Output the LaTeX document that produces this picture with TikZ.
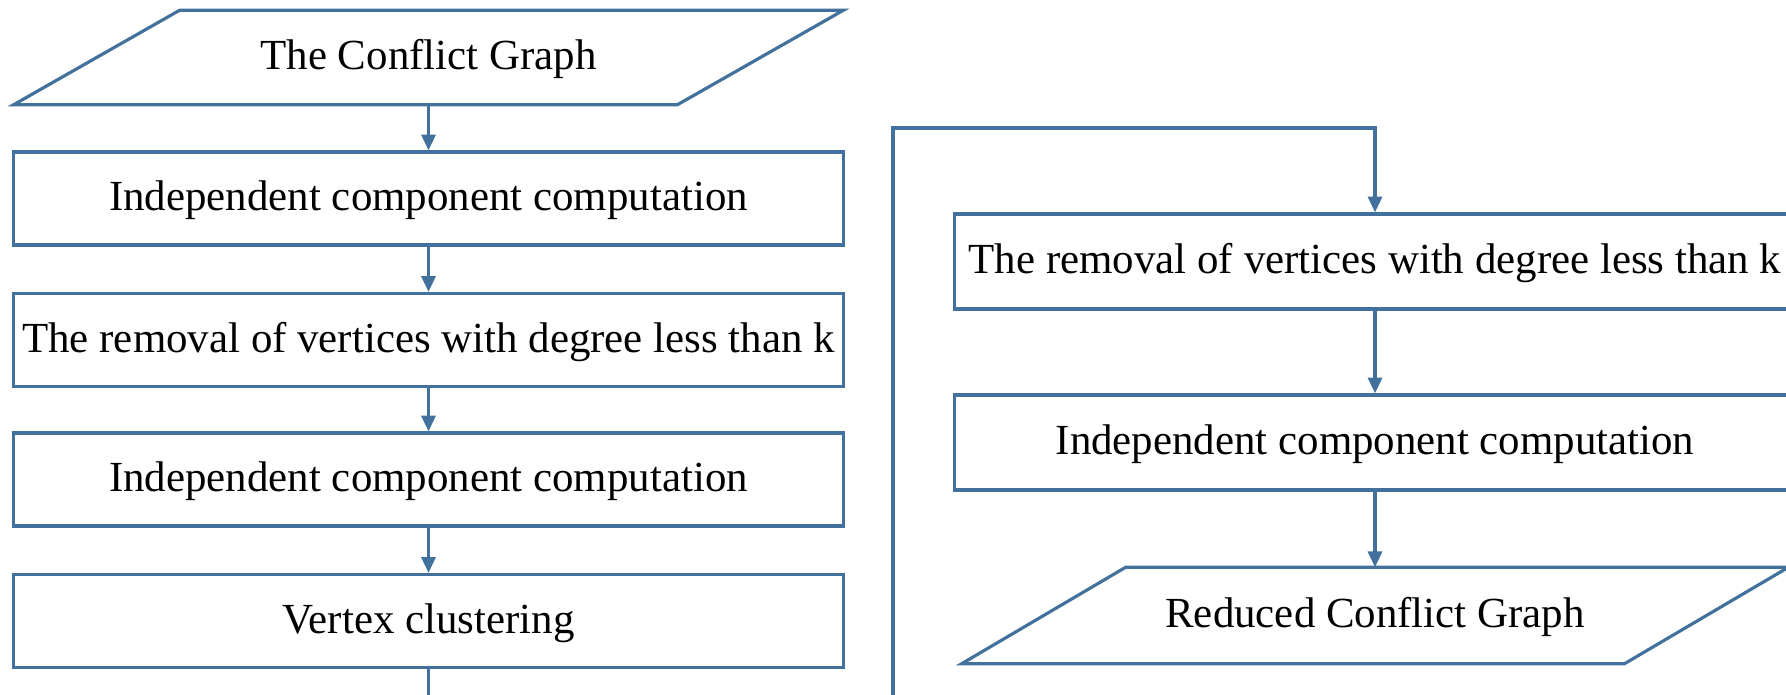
\documentclass[tikz,border=0pt]{standalone}
\usepackage{fontspec}
\setmainfont{Liberation Serif}
\usetikzlibrary{arrows.meta,calc}
\definecolor{flowblue}{RGB}{65,113,156}
\tikzset{
  boxnode/.style={draw=flowblue, line width=0.9pt, minimum width=8.29cm, minimum height=0.93cm, inner sep=0pt, text height=0.9em, text depth=0.2em, font=\fontsize{12.2}{14}\selectfont},
  ionode/.style={minimum width=6.62cm, minimum height=0.93cm, inner sep=0pt, text height=0.9em, text depth=0.2em, font=\fontsize{12.2}{14}\selectfont},
  conn/.style={draw=flowblue, line width=0.9pt, -{Triangle[length=4.5pt,width=4pt]}},
  flowline/.style={draw=flowblue, line width=0.9pt}
}
\begin{document}
\begin{tikzpicture}[x=0.01cm, y=-0.01cm]
\useasboundingbox (0,0) rectangle (1786,694);
\clip (0,0) rectangle (1786,694);
% left column
\node[ionode] (g1) at (428.5,57.5) {The Conflict Graph};
\draw[flowline] ($(g1.south west)+(-83,0)$) -- ($(g1.north west)+(83,0)$) -- ($(g1.north east)+(83,0)$) -- ($(g1.south east)+(-83,0)$) -- cycle;
\node[boxnode] (b1) at (428.5,198.5) {Independent component computation};
\node[boxnode] (b2) at (428.5,340) {The removal of vertices with degree less than k};
\node[boxnode] (b3) at (428.5,479.5) {Independent component computation};
\node[boxnode] (b4) at (428.5,621) {Vertex clustering};
% right column
\node[boxnode, minimum width=8.4cm, minimum height=0.95cm] (r1) at (1375,261.5) {The removal of vertices with degree less than k};
\node[boxnode, minimum width=8.4cm, minimum height=0.95cm] (r2) at (1375,442.5) {Independent component computation};
\node[ionode, minimum width=6.61cm, minimum height=0.95cm] (g2) at (1375,615.5) {Reduced Conflict Graph};
\draw[flowline] ($(g2.south west)+(-82,0)$) -- ($(g2.north west)+(82,0)$) -- ($(g2.north east)+(82,0)$) -- ($(g2.south east)+(-82,0)$) -- cycle;
% connectors
\draw[conn] (g1.south) -- (b1.north);
\draw[conn] (b1.south) -- (b2.north);
\draw[conn] (b2.south) -- (b3.north);
\draw[conn] (b3.south) -- (b4.north);
\coordinate (lb) at (893,730);
\coordinate (lt) at (893,128);
\draw[conn] (b4.south) |- (lb) -- (lt) -| (r1.north);
\draw[conn] (r1.south) -- (r2.north);
\draw[conn] (r2.south) -- (g2.north);
\end{tikzpicture}
\end{document}
